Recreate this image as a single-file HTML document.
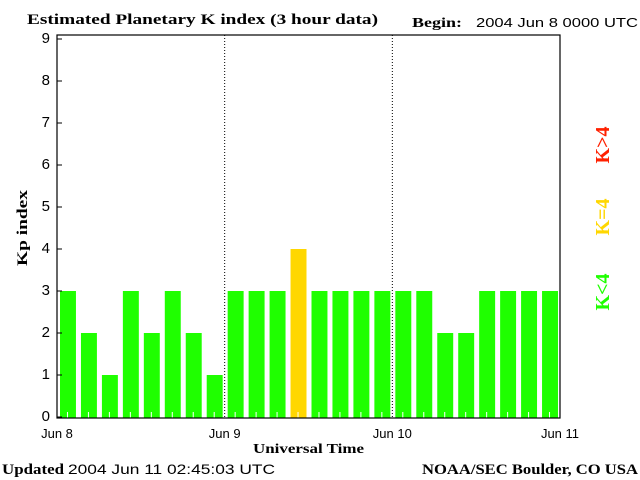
<!DOCTYPE html>
<html><head><meta charset="utf-8"><style>
body{margin:0;background:#fff;}
svg{display:block;}
.s{font-family:"Liberation Serif",serif;font-weight:bold;}
.n{font-family:"Liberation Sans",sans-serif;}
</style></head><body>
<svg id="chart" width="640" height="480" xmlns="http://www.w3.org/2000/svg">
<text x="27" y="24" class="s" font-size="15" textLength="351" lengthAdjust="spacingAndGlyphs">Estimated Planetary K index (3 hour data)</text>
<text x="412" y="27" class="s" font-size="14" textLength="50" lengthAdjust="spacingAndGlyphs">Begin:</text>
<text x="476" y="27" class="n" font-size="13" textLength="162" lengthAdjust="spacingAndGlyphs">2004 Jun 8 0000 UTC</text>
<g id="bars"></g>
<g id="grid"></g>
<rect x="57" y="35" width="503" height="383" fill="none" stroke="#000" stroke-width="1.2"/>
<g id="yticks"></g>
<g id="xticks"></g>
<text x="27" y="228" class="s" font-size="15" textLength="76" lengthAdjust="spacingAndGlyphs" transform="rotate(-90 27 228)" text-anchor="middle">Kp index</text>
<text x="253" y="453" class="s" font-size="14" textLength="111" lengthAdjust="spacingAndGlyphs">Universal Time</text>
<text x="2" y="474" class="s" font-size="15" textLength="62" lengthAdjust="spacingAndGlyphs">Updated</text>
<text x="68" y="474" class="n" font-size="14" textLength="207" lengthAdjust="spacingAndGlyphs">2004 Jun 11 02:45:03 UTC</text>
<text x="422" y="474" class="s" font-size="15" textLength="216" lengthAdjust="spacingAndGlyphs">NOAA/SEC Boulder, CO USA</text>
<text x="609" y="145" class="s" font-size="20" fill="#ff2000" text-anchor="middle" transform="rotate(-90 609 145)">K&gt;4</text>
<text x="609" y="217" class="s" font-size="20" fill="#ffd700" text-anchor="middle" transform="rotate(-90 609 217)">K=4</text>
<text x="609" y="292" class="s" font-size="20" fill="#1fff00" text-anchor="middle" transform="rotate(-90 609 292)">K&lt;4</text>
</svg>
<script>
const kpValues = [3,2,1,3,2,3,2,1, 3,3,3,4,3,3,3,3, 3,3,2,2,3,3,3,3];
const yTickLabels = ["0","1","2","3","4","5","6","7","8","9"];
const dayLabels = ["Jun 8","Jun 9","Jun 10","Jun 11"];
const NS = "http://www.w3.org/2000/svg";
const x0 = 57, x1 = 560, y0 = 417, unit = 42;
const slot = (x1 - x0) / kpValues.length;
const yScale = v => y0 - v * unit;
const xScale = i => x0 + i * slot;
function mk(tag, attrs, parent) {
  const e = document.createElementNS(NS, tag);
  for (const k in attrs) e.setAttribute(k, attrs[k]);
  parent.appendChild(e); return e;
}
const bars = document.getElementById('bars');
kpValues.forEach((v, i) => {
  const c = v > 4 ? "#ff2000" : (v === 4 ? "#ffd700" : "#1fff00");
  const r = mk('rect', {x: xScale(i) + 3, y: yScale(v), width: slot - 5, height: 418 - yScale(v), fill: c}, bars);
  
  
  const t = mk('line', {x1: xScale(i) + slot / 2, x2: xScale(i) + slot / 2, y1: 412, y2: 418, stroke: "#fff"}, bars);
  
  
});
const grid = document.getElementById('grid');
const days = dayLabels.length - 1;
for (let d = 1; d < days; d++) {
  const x = x0 + d * (x1 - x0) / days;
  const l = mk('line', {x1: x, x2: x, y1: 35, y2: 418, stroke: "#000", "stroke-dasharray": "1,2"}, grid);
  
  
}
const yt = document.getElementById('yticks');
yTickLabels.forEach((lab, i) => {
  const y = yScale(i);
  const l = mk('line', {x1: 57, x2: 62, y1: y, y2: y, stroke: "#000"}, yt);
  
  
  const t = mk('text', {x: 50, y: y + 4, "text-anchor": "end", "font-size": 15, "font-family": "Liberation Sans, sans-serif"}, yt);
  t.textContent = lab;
  
  
});
const xt = document.getElementById('xticks');
dayLabels.forEach((lab, d) => {
  const x = x0 + d * (x1 - x0) / days;
  const t = mk('text', {x: x, y: 438, "text-anchor": "middle", "font-size": 13, "font-family": "Liberation Sans, sans-serif"}, xt);
  t.textContent = lab;
  
  
});
</script>
</body></html>
